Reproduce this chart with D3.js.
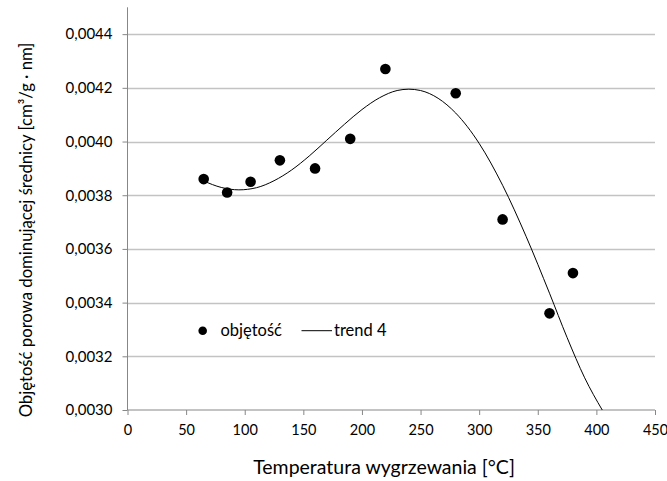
<!DOCTYPE html>
<html>
<head>
<meta charset="utf-8">
<script src="https://cdn.jsdelivr.net/npm/d3@7/dist/d3.min.js"></script>
<style>
  html, body { margin: 0; padding: 0; background: #fff; }
  svg { display: block; font-family: Lato, "Open Sans", sans-serif; }
</style>
</head>
<body>
<svg id="chart" width="667" height="481"></svg>
<script>
// ---- data ----
const temps   = [65, 85, 105, 130, 160, 190, 220, 280, 320, 360, 380];
const volumes = [0.00386, 0.00381, 0.00385, 0.00393, 0.00390, 0.00401, 0.00427, 0.00418, 0.00371, 0.00336, 0.00351];
// trend line "trend 4"
const trendTemps  = [65, 80, 95, 110, 125, 140, 155, 170, 185, 200, 215, 230, 240, 250, 265, 280, 300, 320, 340, 360, 375, 390, 405, 415];
const trendValues = [0.003853, 0.003829, 0.003820, 0.003828, 0.003854, 0.003894, 0.003946, 0.004005, 0.004064, 0.004119, 0.004163, 0.004190, 0.004195, 0.004190, 0.004161, 0.004106, 0.003993, 0.003837, 0.003647, 0.003435, 0.003270, 0.003120, 0.003000, 0.002930];
const xTicks  = [0, 50, 100, 150, 200, 250, 300, 350, 400, 450];
const yTicks  = [0.0030, 0.0032, 0.0034, 0.0036, 0.0038, 0.0040, 0.0042, 0.0044];
const xDomain = [0, 450];
const yDomain = [0.0030, 0.0045];
const seriesNames = ["objętość", "trend 4"];
const xTitle = "Temperatura wygrzewania [°C]";
const yTitle = "Objętość porowa dominującej średnicy [cm³/g · nm]";

const svg = d3.select("#chart");
const x = d3.scaleLinear().domain(xDomain).range([127.5, 655]);
const y = d3.scaleLinear().domain(yDomain).range([410, 7.3]);
const fmt = d3.formatLocale({decimal: ",", thousands: " ", grouping: [3], currency: ["", ""]}).format(".4f");

const gridColor = "#c3c3c3";
const axisColor = "#878787";

// gridlines
svg.append("g").selectAll("line").data(yTicks.slice(1)).join("line")
  .attr("x1", x(0)).attr("x2", x(450))
  .attr("y1", d => Math.round(y(d)) + 0.5).attr("y2", d => Math.round(y(d)) + 0.5)
  .attr("stroke", gridColor).attr("stroke-width", 1.3);

// y axis
const yAxis = svg.append("g").attr("transform", `translate(${x(0)},0)`)
  .call(d3.axisLeft(y).tickValues(yTicks).tickFormat(fmt).tickSize(5).tickPadding(10));
yAxis.select(".domain").remove();
yAxis.append("line").attr("x1", 0).attr("x2", 0).attr("y1", y(yDomain[1])).attr("y2", y(yDomain[0]))
  .attr("stroke", axisColor);
yAxis.selectAll(".tick line").attr("stroke", axisColor);
yAxis.selectAll(".tick text").attr("fill", "#000").style("font-size", "15px").style("font-family", "Lato");

// x axis
const xAxis = svg.append("g").attr("transform", `translate(0,${y(yDomain[0])})`)
  .call(d3.axisBottom(x).tickValues(xTicks).tickSize(5).tickPadding(10));
xAxis.select(".domain").remove();
xAxis.append("line").attr("x1", x(0)).attr("x2", x(450)).attr("y1", 0).attr("y2", 0).attr("stroke", axisColor);
xAxis.selectAll(".tick line").attr("stroke", axisColor);
xAxis.selectAll(".tick text").attr("fill", "#000").style("font-size", "14.5px").style("font-family", "Lato");

// clip
svg.append("clipPath").attr("id", "plotclip").append("rect")
  .attr("x", x(0)).attr("y", y(yDomain[1])).attr("width", x(450) - x(0)).attr("height", y(yDomain[0]) - y(yDomain[1]));

// trendline
svg.append("path")
  .attr("clip-path", "url(#plotclip)")
  .attr("d", d3.line().curve(d3.curveMonotoneX).x(d => x(d[0])).y(d => y(d[1]))(trendTemps.map((t, i) => [t, trendValues[i]])))
  .attr("fill", "none").attr("stroke", "#000").attr("stroke-width", 1);

// points
svg.append("g").selectAll("circle").data(temps.map((t, i) => [t, volumes[i]])).join("circle")
  .attr("cx", d => x(d[0])).attr("cy", d => y(d[1])).attr("r", 5.3).attr("fill", "#000");

// legend
const lg = svg.append("g");
lg.append("circle").attr("cx", 202.7).attr("cy", 330.7).attr("r", 4.3).attr("fill", "#000");
lg.append("text").attr("x", 220.5).attr("y", 336).text(seriesNames[0]).style("font-size", "16.5px");
lg.append("line").attr("x1", 301.5).attr("x2", 332).attr("y1", 330.7).attr("y2", 330.7).attr("stroke", "#000").attr("stroke-width", 1);
lg.append("text").attr("x", 334).attr("y", 336).text(seriesNames[1]).style("font-size", "16.5px");

// axis titles
svg.append("text").attr("x", 384).attr("y", 473.5).attr("text-anchor", "middle")
  .style("font-size", "19.5px").text(xTitle);
svg.append("text").attr("transform", "translate(31.5,230) rotate(-90)").attr("text-anchor", "middle")
  .style("font-size", "16.7px").text(yTitle);
</script>
</body>
</html>
